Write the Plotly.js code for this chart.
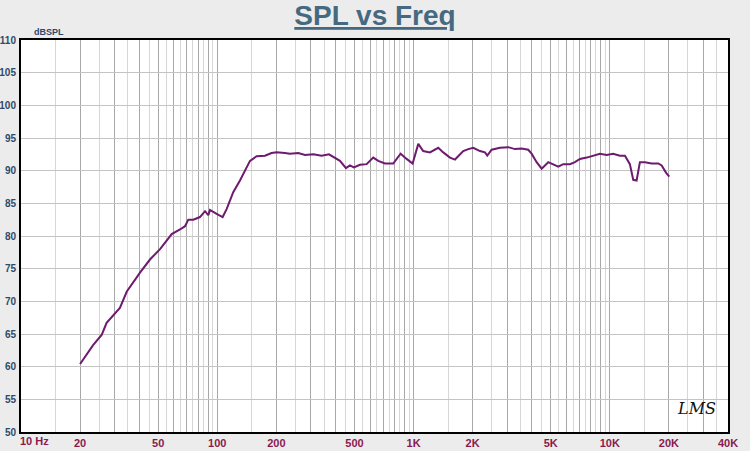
<!DOCTYPE html>
<html>
<head>
<meta charset="utf-8">
<script src="https://cdn.plot.ly/plotly-3.0.1.min.js"></script>
<style>
  html, body { margin: 0; padding: 0; background: #ececec; }
  #chart { width: 750px; height: 451px; }
</style>
</head>
<body>
<div id="chart"></div>
<script>
// Frequency response (Hz, dB SPL)
const freqHz = [20, 23.3, 25.8, 27.3, 31.9, 34.6, 40.4, 45.4, 51.1, 58.6, 64.6, 68.5, 71.2, 75.5,
  81.6, 86.6, 90, 91.8, 99.3, 106.5, 111.6, 120.6, 130.5, 138.4, 146.8, 158.7, 175, 189, 200.7,
  221, 234.6, 258.7, 279.8, 308.4, 340.3, 370.7, 397.8, 421.7, 452.6, 474, 497, 533, 576.7, 623,
  661, 714.7, 788, 859, 922, 989, 1057, 1120, 1212, 1336, 1417, 1533, 1626, 1791, 1900, 2015,
  2179, 2311, 2375, 2500, 2754, 3038, 3286, 3555, 3840, 3995, 4237, 4495, 4856, 5150, 5458, 5790,
  6266, 6640, 7040, 7620, 8233, 8905, 9640, 10400, 11250, 11940, 12650, 13160, 13690, 14230,
  15100, 16330, 17650, 18370, 19320, 20080];
const splDb = [60.4, 63.3, 64.9, 66.7, 69.0, 71.5, 74.4, 76.4, 78.0, 80.3, 81.0, 81.5, 82.5, 82.5,
  82.9, 83.8, 83.2, 84.0, 83.4, 82.9, 84.1, 86.7, 88.5, 90.0, 91.5, 92.2, 92.3, 92.7, 92.8,
  92.7, 92.6, 92.7, 92.4, 92.5, 92.3, 92.5, 92.0, 91.5, 90.4, 90.8, 90.5, 90.9, 91.0, 92.0,
  91.5, 91.1, 91.1, 92.6, 91.8, 91.1, 94.1, 93.0, 92.8, 93.5, 92.8, 92.0, 91.7, 93.0, 93.3, 93.5,
  93.0, 92.8, 92.3, 93.2, 93.5, 93.6, 93.3, 93.4, 93.2, 92.6, 91.3, 90.3, 91.3, 91.0, 90.6, 91.0,
  91.0, 91.3, 91.8, 92.0, 92.3, 92.6, 92.4, 92.6, 92.3, 92.3, 91.0, 88.6, 88.5, 91.3,
  91.3, 91.1, 91.1, 90.8, 89.7, 89.1];

// Axis labels
const xLabelVals = [20, 50, 100, 200, 500, 1000, 2000, 5000, 10000, 20000, 40000];
const xLabelText = ['20', '50', '100', '200', '500', '1K', '2K', '5K', '10K', '20K', '40K'];
const yTicks = [50, 55, 60, 65, 70, 75, 80, 85, 90, 95, 100, 105, 110];

// Grid positions: every 1..9 multiple per decade (darker), halves in between (lighter)
const majorVals = [], majorText = [], minorVals = [];
for (let d = 10; d <= 10000; d *= 10) {
    for (let m = 1; m <= 9; m++) {
        const v = m * d;
        if (v > 40000) break;
        majorVals.push(v);
        const k = xLabelVals.indexOf(v);
        majorText.push(k >= 0 ? xLabelText[k] : '');
        if ((m + 0.5) * d < 40000) minorVals.push((m + 0.5) * d);
    }
}
majorVals.push(40000); majorText.push('40K');
majorText[0] = ''; // 10 Hz is drawn as an annotation, left aligned

const trace = {
    x: freqHz, y: splDb, type: 'scatter', mode: 'lines',
    line: { color: '#6e1a6e', width: 2 }, hoverinfo: 'skip'
};

const layout = {
    width: 750, height: 451,
    margin: { l: 21, r: 22, t: 40, b: 19 },
    paper_bgcolor: '#ececec', plot_bgcolor: '#ffffff',
    showlegend: false,
    title: {
        text: '<u>SPL vs Freq</u>',
        font: { family: 'Liberation Sans, Arial', size: 28, color: '#46697f', weight: 'bold' },
        x: 0.5, xanchor: 'center', y: 0.988, yanchor: 'top'
    },
    xaxis: {
        type: 'log', range: [1, Math.log10(40000)],
        tickmode: 'array', tickvals: majorVals, ticktext: majorText,
        ticks: '', showgrid: true, gridcolor: '#a8a8a8', gridwidth: 1,
        minor: { tickmode: 'array', tickvals: minorVals, showgrid: true, gridcolor: '#d6d6d6', gridwidth: 1, ticks: '' },
        showline: true, linecolor: '#000', linewidth: 2, mirror: true,
        zeroline: false, ticklabelstandoff: 0,
        tickfont: { family: 'Liberation Sans, Arial', size: 11, color: '#8a1a4e', weight: 'bold' }
    },
    yaxis: {
        range: [50, 110], tickmode: 'array', tickvals: yTicks,
        ticks: '', showgrid: true, gridcolor: '#c4c4c4', gridwidth: 1,
        showline: true, linecolor: '#000', linewidth: 2, mirror: true,
        zeroline: false, ticklabelstandoff: 1,
        tickfont: { family: 'Liberation Sans, Arial', size: 10, color: '#2c4a6a', weight: 'bold' }
    },
    annotations: [
        { text: 'dBSPL', xref: 'paper', yref: 'paper', x: 0.016, y: 1, xanchor: 'left', yanchor: 'bottom',
          yshift: 1, showarrow: false, font: { family: 'Liberation Sans, Arial', size: 9, color: '#2c4a6a', weight: 'bold' } },
        { text: '10 Hz', xref: 'paper', yref: 'paper', x: 0, y: 0, xanchor: 'left', yanchor: 'top',
          xshift: -3, yshift: -1, showarrow: false, font: { family: 'Liberation Sans, Arial', size: 11, color: '#8a1a4e', weight: 'bold' } },
        { text: '<i>LMS</i>', xref: 'paper', yref: 'paper', x: 0.986, y: 0.03, xanchor: 'right', yanchor: 'bottom',
          showarrow: false, font: { family: 'DejaVu Serif', size: 16, color: '#111' } }
    ]
};

Plotly.newPlot('chart', [trace], layout, { displayModeBar: false, staticPlot: true });
</script>
</body>
</html>
